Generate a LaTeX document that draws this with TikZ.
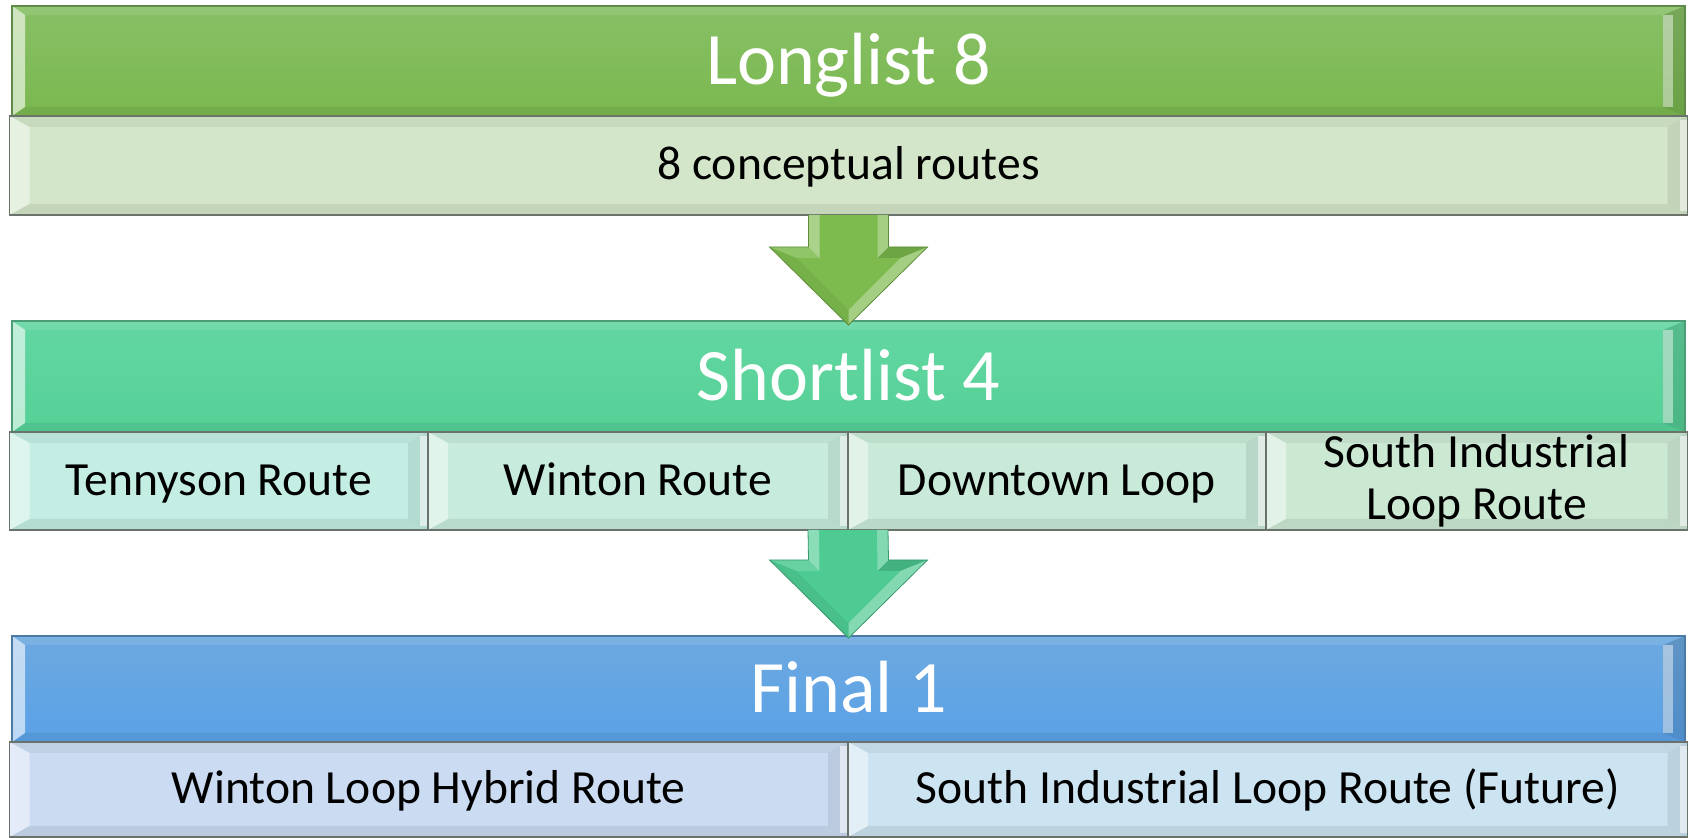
\documentclass[tikz,border=0pt]{standalone}
\usepackage{fontspec}
\setmainfont{Carlito}
\usetikzlibrary{calc}
\definecolor{hAtop}{HTML}{88C066}
\definecolor{hAbot}{HTML}{7AB84F}
\definecolor{hAline}{HTML}{5E8B47}
\definecolor{sA}{HTML}{D3E6C9}
\definecolor{subline}{HTML}{6B726C}
\definecolor{hBtop}{HTML}{63D6A2}
\definecolor{hBbot}{HTML}{55D196}
\definecolor{hBline}{HTML}{4C9C78}
\definecolor{sBa}{HTML}{C4EEE3}
\definecolor{sBb}{HTML}{C7ECDD}
\definecolor{sBc}{HTML}{C9EAD8}
\definecolor{sBd}{HTML}{CBE8D3}
\definecolor{hCtop}{HTML}{6DA9E0}
\definecolor{hCbot}{HTML}{5AA1E6}
\definecolor{hCline}{HTML}{4C7AA6}
\definecolor{sCa}{HTML}{CBDCF2}
\definecolor{sCb}{HTML}{CCE3F1}
\definecolor{arA}{HTML}{7DBB4E}
\definecolor{arB}{HTML}{4ECB92}

\newcommand\blockarrow[3]{%
  \fill[#3] ($(#1)+(-40,0)$) -- ($(#1)+(40,0)$) -- ($(#2)+(40,-78)$) -- ($(#2)+(79,-78)$) -- (#2) -- ($(#2)+(-79,-78)$) -- ($(#2)+(-40,-78)$) -- cycle;
  \fill[white,opacity=0.35] ($(#1)+(-40,0)$) -- ($(#1)+(-29,0)$) -- ($(#2)+(-29,-67)$) -- ($(#2)+(-40,-78)$) -- cycle;
  \fill[white,opacity=0.30] ($(#1)+(29,0)$) -- ($(#1)+(40,0)$) -- ($(#2)+(40,-78)$) -- ($(#2)+(29,-67)$) -- cycle;
  \fill[white,opacity=0.15] ($(#2)+(-79,-78)$) -- ($(#2)+(-40,-78)$) -- ($(#2)+(-29,-67)$) -- ($(#2)+(-52,-67)$) -- cycle;
  \fill[black,opacity=0.12] ($(#2)+(40,-78)$) -- ($(#2)+(79,-78)$) -- ($(#2)+(52,-67)$) -- ($(#2)+(29,-67)$) -- cycle;
  \fill[black,opacity=0.06] ($(#2)+(-79,-78)$) -- ($(#2)+(-52,-67)$) -- ($(#2)+(0,-15)$) -- (#2) -- cycle;
  \fill[white,opacity=0.30] (#2) -- ($(#2)+(0,-15)$) -- ($(#2)+(52,-67)$) -- ($(#2)+(79,-78)$) -- cycle;
  \draw[#3!75!black, line width=0.4pt] ($(#1)+(-40,0)$) -- ($(#2)+(-40,-78)$) -- ($(#2)+(-79,-78)$) -- (#2) -- ($(#2)+(79,-78)$) -- ($(#2)+(40,-78)$) -- ($(#1)+(40,0)$);
}

\tikzset{
  x=0.5pt, y=-0.5pt,
  sbevel/.style={path picture={
    \pgfnodealias{pp}{path picture bounding box}
    \fill[black,opacity=0.05] (pp.north west) -- (pp.north east) -- ($(pp.north east)+(-20,11)$) -- ($(pp.north west)+(20,11)$) -- cycle;
    \fill[white,opacity=0.45] (pp.north west) -- ($(pp.north west)+(20,11)$) -- ($(pp.south west)+(20,-11)$) -- (pp.south west) -- cycle;
    \fill[black,opacity=0.07] (pp.south west) -- ($(pp.south west)+(20,-11)$) -- ($(pp.south east)+(-20,-11)$) -- (pp.south east) -- cycle;
    \fill[black,opacity=0.08] (pp.north east) -- ($(pp.north east)+(-20,11)$) -- ($(pp.south east)+(-20,-11)$) -- (pp.south east) -- cycle;
    \fill[white,opacity=0.55] ($(pp.north east)+(-8,4)$) rectangle ($(pp.south east)+(0,-4)$);
  }},
  hbevel/.style={path picture={
    \pgfnodealias{pp}{path picture bounding box}
    \fill[white,opacity=0.10] (pp.north west) -- (pp.north east) -- ($(pp.north east)+(-22,9)$) -- ($(pp.north west)+(13,9)$) -- cycle;
    \fill[white,opacity=0.60] (pp.north west) -- ($(pp.north west)+(13,9)$) -- ($(pp.south west)+(13,-9)$) -- (pp.south west) -- cycle;
    \fill[black,opacity=0.06] (pp.south west) -- ($(pp.south west)+(13,-9)$) -- ($(pp.south east)+(-22,-9)$) -- (pp.south east) -- cycle;
    \fill[black,opacity=0.12] (pp.north east) -- ($(pp.north east)+(-22,9)$) -- ($(pp.south east)+(-22,-9)$) -- (pp.south east) -- cycle;
    \fill[white,opacity=0.45] ($(pp.north east)+(-22,9)$) rectangle ($(pp.south east)+(-12,-9)$);
  }},
  boxbase/.style={rectangle, inner sep=0pt, outer sep=0pt, line width=0.8pt},
  headbox/.style={boxbase, hbevel, minimum width=836.5pt, text=white,
    text height=23.8pt, text depth=0pt,
    font=\fontsize{37}{43}\selectfont},
  subbox/.style={boxbase, sbevel, draw=subline, text=black,
    font=\fontsize{23.8}{26}\selectfont},
  oneline/.style={text height=14.5pt, text depth=0pt},
}

\begin{document}
\begin{tikzpicture}
\useasboundingbox (0,0) rectangle (1688,838);

% Longlist
\node[headbox, draw=hAline, top color=hAtop, bottom color=hAbot, minimum height=55pt] (h1) at (848.5,61) {Longlist 8};
\node[subbox, oneline, fill=sA, minimum width=839pt, minimum height=49.5pt] (s1) at (848.5,165.5) {8 conceptual routes};

% Shortlist
\node[headbox, draw=hBline, top color=hBtop, bottom color=hBbot, minimum height=55.5pt] (h2) at (848.5,376.5) {Shortlist 4};
\node[subbox, oneline, fill=sBa, minimum width=209.25pt, minimum height=49pt] (s2a) at (218.75,481) {Tennyson Route};
\node[subbox, oneline, fill=sBb, minimum width=210pt, minimum height=49pt] (s2b) at (638,481) {Winton Route};
\node[subbox, oneline, fill=sBc, minimum width=209pt, minimum height=49pt] (s2c) at (1057,481) {Downtown Loop};
\node[subbox, align=center, fill=sBd, minimum width=210.75pt, minimum height=49pt] (s2d) at (1476.75,481) {South Industrial\\Loop Route};

% Final
\node[headbox, draw=hCline, top color=hCtop, bottom color=hCbot, minimum height=53pt] (h3) at (848.5,689) {Final 1};
\node[subbox, oneline, fill=sCa, minimum width=419.25pt, minimum height=47.5pt] (s3a) at (428.75,789.5) {Winton Loop Hybrid Route};
\node[subbox, oneline, fill=sCb, minimum width=419.75pt, minimum height=47.5pt] (s3b) at (1267.75,789.5) {South Industrial Loop Route (Future)};

% arrows
\coordinate (a1s) at (s1.south);
\coordinate (a1t) at ($(h2.north)+(0,4)$);
\blockarrow{a1s}{a1t}{arA}
\coordinate (a2s) at (s2b.south east);
\coordinate (a2t) at ($(h3.north)+(0,2)$);
\blockarrow{a2s}{a2t}{arB}
\end{tikzpicture}
\end{document}
